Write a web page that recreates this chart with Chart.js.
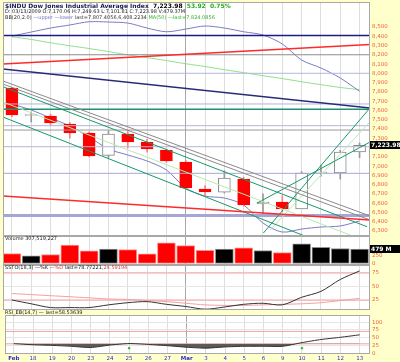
<!DOCTYPE html>
<html>
<head>
<meta charset="utf-8">
<title>$INDU daily</title>
<script src="https://cdn.jsdelivr.net/npm/chart.js@4.4.1/dist/chart.umd.min.js"></script>
<style>
    html, body { margin: 0; padding: 0; background: #ffffcc; }
    #board { position: relative; width: 400px; height: 362px; background: #ffffcc; overflow: hidden; }
    #board canvas { position: absolute; left: 0; }
</style>
</head>
<body>
<div id="board">
    <canvas id="priceChart" width="400" height="236" style="top:0px"></canvas>
    <canvas id="volumeChart" width="400" height="29" style="top:236px"></canvas>
    <canvas id="sstoChart" width="400" height="45" style="top:265px"></canvas>
    <canvas id="rsiChart" width="400" height="52" style="top:310px"></canvas>
</div>
<script>
// Trading days, Feb 17 - Mar 13 2009
const days = ['Feb', '18', '19', '20', '23', '24', '25', '26', '27', 'Mar', '3', '4', '5', '6', '9', '10', '11', '12', '13'];

// Daily prices
const opens  = [7842, 7546, 7540, 7454, 7357, 7115, 7346, 7260, 7173, 7044, 6753, 6720, 6861, 6591, 6613, 6537, 6926, 6926, 7152];
const closes = [7551, 7556, 7465, 7357, 7109, 7346, 7260, 7184, 7055, 6764, 6721, 6872, 6580, 6613, 6537, 6926, 6930, 7152, 7223.98];
const highs  = [7850, 7583, 7560, 7470, 7370, 7380, 7390, 7290, 7185, 7060, 6790, 6950, 6880, 6700, 6680, 6940, 7010, 7170, 7250];
const lows   = [7530, 7475, 7440, 7300, 7100, 7090, 7195, 7150, 7040, 6760, 6680, 6710, 6570, 6480, 6510, 6540, 6890, 6860, 7090];

// Overlays
const bbUpper = [8403, 8446, 8489, 8522, 8557, 8554, 8543, 8489, 8449, 8478, 8511, 8489, 8449, 8414, 8317, 8144, 8058, 7950, 7807];
const bbLower = [7670, 7605, 7519, 7432, 7314, 7184, 7120, 7055, 6958, 6764, 6677, 6656, 6580, 6386, 6289, 6321, 6343, 6354, 6408];
const ma50    = [8396, 8366, 8330, 8298, 8268, 8235, 8200, 8170, 8138, 8104, 8074, 8040, 8008, 7975, 7944, 7910, 7878, 7848, 7824];

// Volume (millions)
const volumes = [333, 253, 300, 610, 420, 477, 467, 320, 687, 600, 443, 477, 520, 433, 367, 653, 543, 500, 479];

// Indicators
const sstoK = [25, 18, 11, 11, 11, 16, 20, 22, 17, 13, 8, 12, 17, 19, 16, 30, 41, 63, 78.8];
const sstoD = [37, 35, 33, 31, 29, 27, 26, 24, 22, 19, 16, 15, 15, 16, 17, 18, 20, 24, 28];
const rsi   = [30.6, 27, 25, 22, 18, 26, 31, 28, 24, 19, 16, 20, 22, 22, 22, 34, 44, 51, 59];
const rsiSignalDays = [6, 15];
const rsiSignalValue = [16, 16];

// Drawn annotations on the price panel
const levelPrices = [8408, 8201, 8001, 7670, 7612, 7436, 7389, 7209, 6922, 6467];
// [start day, start price, end day, end price]
const trendLines = [
    [-0.46, 8101, 18.54, 8311],
    [-0.46, 6677, 18.54, 6419],
    [-0.46, 8047, 18.54, 7627],
    [-0.46, 7918, 18.54, 6462],
    [-0.46, 7885, 18.54, 6419],
    [-0.46, 7856, 18.39, 6346],
    [-0.46, 7529, 16.48, 6138],
    [-0.46, 7691, 17.51, 6257],
    [13.02, 6278, 18.54, 7627],
    [12.71, 6602, 18.54, 7260],
    [13.38, 6311, 18.54, 7479]
];
const sstoLevels = [75, 25];
const rsiLevels = [70, 30];

// Tick labels
const priceTicks = [6300, 6400, 6500, 6600, 6700, 6800, 6900, 7000, 7100, 7200, 7300, 7400, 7500, 7600, 7700, 7800, 7900, 8000, 8100, 8200, 8300, 8400, 8500];
const volumeTicks = [0, 250];
const sstoTicks = [25, 50, 75];
const rsiTicks = [0, 25, 50, 75, 100];

// Styles
const levelColors = ['#1c1c80', '#8c8c8c', '#b4b4dc', '#b4b4dc', '#1f9070', '#b4b4dc', '#9a9a9a', '#b4b4dc', '#a8a8d8', '#a6a6d6'];
const levelWidths = [1.5, 1, 1, 1, 1.5, 1, 1, 1, 1, 3];
const trendColors = ['#ff2a2a', '#ff2a2a', '#2a2a7a', '#8a8a8a', '#8a8a8a', '#169a6a', '#169a6a', '#b8e8b0', '#169a6a', '#169a6a', '#b8e8b0'];
const trendWidths = [1.5, 1.5, 1.5, 1, 1, 1, 1, 1, 1, 1, 1];

const X_MIN = -0.46, X_MAX = 18.54;
const AXIS_RED = '#f06040';
const FONT = "'DejaVu Sans', sans-serif";

Chart.defaults.font.family = FONT;
Chart.defaults.font.size = 6;
Chart.defaults.animation = false;
Chart.defaults.plugins.legend.display = false;
Chart.defaults.plugins.tooltip.enabled = false;

const fmtPrice = v => v.toLocaleString('en-US');

function isDown(i) {
    return i === 0 ? true : closes[i] < closes[i - 1];
}

function xAxis(withLabels) {
    return {
        type: 'linear', min: X_MIN, max: X_MAX, offset: false,
        afterBuildTicks: s => { s.ticks = days.map((d, i) => ({ value: i })); },
        afterFit: s => { s.height = withLabels ? 8 : 0; s.paddingLeft = 0; s.paddingRight = 0; },
        border: { display: false },
        grid: {
            offset: false, drawTicks: false,
            color: c => (c.tick && c.tick.value === 9) ? '#a8a8a8' : '#dedede'
        },
        ticks: {
            display: withLabels, autoSkip: false, maxRotation: 0, padding: 1, color: '#2a2ad0',
            font: c => ({ size: 5.5, weight: (c.tick && (c.tick.value === 0 || c.tick.value === 9)) ? 'bold' : 'normal' }),
            callback: v => days[v]
        }
    };
}

function yAxis(min, max, tickValues, fmt, gridOn) {
    return {
        position: 'right', min: min, max: max,
        afterBuildTicks: s => { s.ticks = tickValues.map(v => ({ value: v })); },
        afterFit: s => { s.width = 30; s.paddingTop = 0; s.paddingBottom = 0; },
        border: { display: false },
        grid: { display: gridOn, drawTicks: false, color: '#e6e6e6' },
        ticks: { padding: 2, color: AXIS_RED, font: { size: 5.5 }, callback: fmt }
    };
}

// white plot area + thin frame
const panelFrame = {
    id: 'panelFrame',
    beforeDraw(chart) {
        const { ctx, chartArea: a } = chart;
        ctx.save();
        ctx.fillStyle = '#ffffff';
        ctx.fillRect(a.left, a.top, a.width, a.height);
        ctx.restore();
    },
    afterDraw(chart) {
        const { ctx, chartArea: a } = chart;
        ctx.save();
        ctx.strokeStyle = '#a8a8a8';
        ctx.lineWidth = 1;
        ctx.strokeRect(a.left + 0.5, a.top + 0.5, a.width - 1, a.height - 1);
        ctx.restore();
    }
};

function drawText(ctx, parts, x, y) {
    parts.forEach(p => {
        ctx.font = p.font;
        ctx.fillStyle = p.color;
        ctx.fillText(p.text, x, y);
        x += ctx.measureText(p.text).width;
    });
}

function lastBox(chart, value, label) {
    const ctx = chart.ctx;
    const y = chart.scales.y.getPixelForValue(value);
    ctx.save();
    ctx.fillStyle = '#000';
    ctx.fillRect(370, Math.round(y) - 4, 30, 8);
    ctx.fillStyle = '#fff';
    ctx.font = 'bold 6px ' + FONT;
    ctx.textBaseline = 'middle';
    ctx.fillText(label, 371, Math.round(y));
    ctx.restore();
}

// ---------- price panel ----------
const priceDatasets = [];

trendLines.forEach((t, k) => priceDatasets.push({
    type: 'line', order: 0,
    data: [{ x: t[0], y: t[1] }, { x: t[2], y: t[3] }],
    borderColor: trendColors[k], borderWidth: trendWidths[k], pointRadius: 0
}));

levelPrices.forEach((p, k) => priceDatasets.push({
    type: 'line', order: 1,
    data: [{ x: X_MIN, y: p }, { x: X_MAX, y: p }],
    borderColor: levelColors[k], borderWidth: levelWidths[k], pointRadius: 0
}));

priceDatasets.push({
    type: 'bar', order: 2, grouped: false,
    data: days.map((d, i) => ({ x: i, y: [opens[i], closes[i]] })),
    barThickness: 12, minBarLength: 1, borderSkipped: false, borderWidth: 1,
    backgroundColor: days.map((d, i) => closes[i] < opens[i] ? (isDown(i) ? '#ff0000' : '#000') : '#ffffff'),
    borderColor: days.map((d, i) => closes[i] < opens[i] ? (isDown(i) ? '#ff0000' : '#000') : (isDown(i) ? '#ff0000' : '#888888'))
});

priceDatasets.push({
    type: 'bar', order: 3, grouped: false,
    data: days.map((d, i) => ({ x: i, y: [lows[i], highs[i]] })),
    barThickness: 1, borderWidth: 0,
    backgroundColor: days.map((d, i) => isDown(i) ? '#ff8080' : '#999999')
});

priceDatasets.push({
    type: 'line', order: 4, data: days.map((d, i) => ({ x: i, y: bbUpper[i] })),
    borderColor: '#7c7cc8', borderWidth: 1, pointRadius: 0, tension: 0.3
});
priceDatasets.push({
    type: 'line', order: 4, data: days.map((d, i) => ({ x: i, y: bbLower[i] })),
    borderColor: '#7c7cc8', borderWidth: 1, pointRadius: 0, tension: 0.3
});
priceDatasets.push({
    type: 'line', order: 4, data: days.map((d, i) => ({ x: i, y: ma50[i] })),
    borderColor: '#90e090', borderWidth: 1, pointRadius: 0, tension: 0.3
});

const priceHeader = {
    id: 'priceHeader',
    afterDraw(chart) {
        const ctx = chart.ctx;
        const x = chart.chartArea.left + 2;
        ctx.save();
        ctx.textBaseline = 'middle';
        drawText(ctx, [
            { text: '$INDU Dow Jones Industrial Average Index  ', color: '#1a1a50', font: 'bold 6px ' + FONT },
            { text: '7,223.98  ', color: '#000', font: 'bold 6px ' + FONT },
            { text: '53.92  0.75%', color: '#20b020', font: 'bold 6px ' + FONT }
        ], x, 6);
        drawText(ctx, [
            { text: 'D: 03/13/2009 O:7,170.06 H:7,249.63 L:7,101.81 C:7,223.98 V:479.37M', color: '#222', font: '5px ' + FONT }
        ], x, 12);
        drawText(ctx, [
            { text: 'BB(20,2.0) ', color: '#333', font: '5px ' + FONT },
            { text: '\u2014upper \u2014lower ', color: '#7070c0', font: '5px ' + FONT },
            { text: 'last=7,807.4056,6,408.2234 ', color: '#333', font: '5px ' + FONT },
            { text: 'MA(50) \u2014last=7,824.0856', color: '#30b030', font: '5px ' + FONT }
        ], x, 18);
        ctx.restore();
        lastBox(chart, closes[closes.length - 1], closes[closes.length - 1].toLocaleString('en-US', { minimumFractionDigits: 2 }));
    }
};

new Chart(document.getElementById('priceChart'), {
    type: 'line',
    data: { datasets: priceDatasets },
    options: {
        responsive: false,
        devicePixelRatio: 1,
        layout: { padding: { left: 3, top: 2, right: 0, bottom: 0 } },
        scales: {
            x: xAxis(false),
            y: yAxis(6246, 8770, priceTicks, fmtPrice, false)
        }
    },
    plugins: [panelFrame, priceHeader]
});

// ---------- volume panel ----------
new Chart(document.getElementById('volumeChart'), {
    type: 'bar',
    data: {
        datasets: [{
            data: days.map((d, i) => ({ x: i, y: volumes[i] })),
            barThickness: 18, borderWidth: 1, borderSkipped: false,
            backgroundColor: days.map((d, i) => isDown(i) ? '#ff0000' : '#000000'),
            borderColor: days.map((d, i) => isDown(i) ? '#ff9090' : '#909090')
        }]
    },
    options: {
        responsive: false,
        devicePixelRatio: 1,
        layout: { padding: { left: 3, top: 0, right: 0, bottom: 0 } },
        scales: {
            x: xAxis(false),
            y: yAxis(-50, 916.7, volumeTicks, v => String(v), false)
        }
    },
    plugins: [panelFrame, {
        id: 'volumeHeader',
        afterDraw(chart) {
            const ctx = chart.ctx;
            ctx.save();
            ctx.textBaseline = 'middle';
            drawText(ctx, [{ text: 'Volume 307,519,227', color: '#222', font: '5px ' + FONT }], 5, 3);
            ctx.restore();
            lastBox(chart, volumes[volumes.length - 1], volumes[volumes.length - 1] + ' M');
        }
    }]
});

// ---------- slow stochastic ----------
new Chart(document.getElementById('sstoChart'), {
    type: 'line',
    data: {
        datasets: [
            { data: days.map((d, i) => ({ x: i, y: sstoK[i] })), borderColor: '#333', borderWidth: 1, pointRadius: 0, tension: 0.3 },
            { data: days.map((d, i) => ({ x: i, y: sstoD[i] })), borderColor: '#f4a0a0', borderWidth: 1, pointRadius: 0, tension: 0.3 },
            ...sstoLevels.map(v => ({ data: [{ x: X_MIN, y: v }, { x: X_MAX, y: v }], borderColor: '#f4a0a0', borderWidth: 1, pointRadius: 0 }))
        ]
    },
    options: {
        responsive: false,
        devicePixelRatio: 1,
        layout: { padding: { left: 3, top: 0, right: 0, bottom: 0 } },
        scales: {
            x: xAxis(false),
            y: yAxis(6.5, 89.8, sstoTicks, v => String(v), true)
        }
    },
    plugins: [panelFrame, {
        id: 'sstoHeader',
        afterDraw(chart) {
            const ctx = chart.ctx;
            ctx.save();
            ctx.textBaseline = 'middle';
            drawText(ctx, [
                { text: 'SSTO(18,3) ', color: '#222', font: '5px ' + FONT },
                { text: '\u2014%K ', color: '#222', font: '5px ' + FONT },
                { text: '\u2014%D ', color: '#e04040', font: '5px ' + FONT },
                { text: 'last=78.77221,', color: '#222', font: '5px ' + FONT },
                { text: '24.59194', color: '#e04040', font: '5px ' + FONT }
            ], 5, 3);
            ctx.restore();
        }
    }]
});

// ---------- RSI ----------
new Chart(document.getElementById('rsiChart'), {
    type: 'line',
    data: {
        datasets: [
            {
                data: days.map((d, i) => ({ x: i, y: rsi[i] })), borderColor: '#333', borderWidth: 1, pointRadius: 0, tension: 0.2,
                fill: { target: { value: 30 }, above: 'rgba(0,0,0,0)', below: '#5a5a5a' }
            },
            ...rsiLevels.map(v => ({ data: [{ x: X_MIN, y: v }, { x: X_MAX, y: v }], borderColor: '#f4a0a0', borderWidth: 1, pointRadius: 0 })),
            {
                data: rsiSignalDays.map((d, k) => ({ x: d, y: rsiSignalValue[k] })), showLine: false,
                pointRadius: 1, pointStyle: 'rect', backgroundColor: '#20c020', borderColor: '#20c020'
            }
        ]
    },
    options: {
        responsive: false,
        devicePixelRatio: 1,
        layout: { padding: { left: 3, top: 0, right: 0, bottom: 0 } },
        scales: {
            x: xAxis(true),
            y: yAxis(-2.8, 122.9, rsiTicks, v => String(v), true)
        }
    },
    plugins: [panelFrame, {
        id: 'rsiHeader',
        afterDraw(chart) {
            const ctx = chart.ctx;
            ctx.save();
            ctx.textBaseline = 'middle';
            drawText(ctx, [{ text: 'RSI_EB(14,7) \u2014 last=58.53639', color: '#222', font: '5px ' + FONT }], 5, 3);
            ctx.restore();
        }
    }]
});
</script>
</body>
</html>
